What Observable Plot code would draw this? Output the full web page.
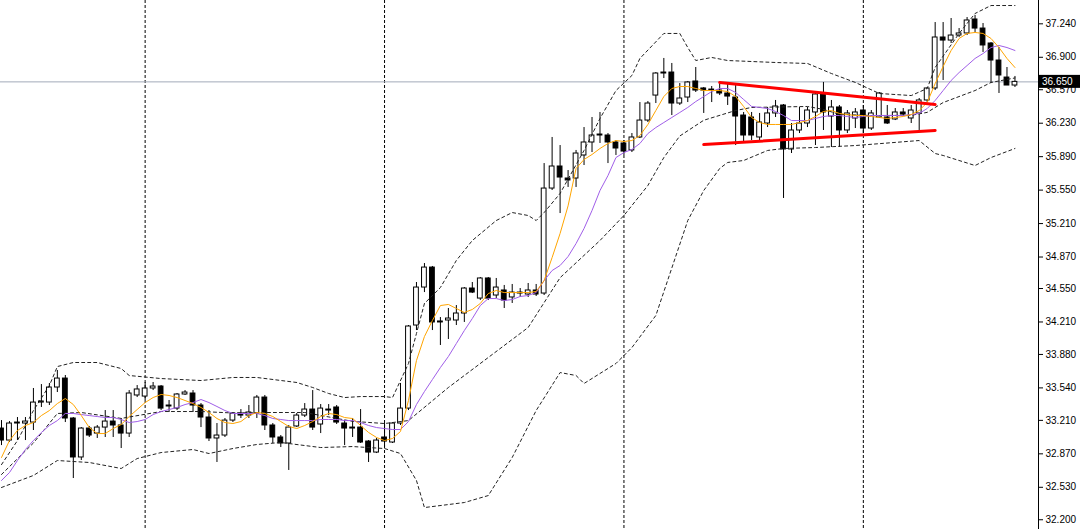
<!DOCTYPE html>
<html><head><meta charset="utf-8">
<script src="https://cdn.jsdelivr.net/npm/d3@7"></script>
<script src="https://cdn.jsdelivr.net/npm/@observablehq/plot@0.6"></script>
<style>html,body{margin:0;padding:0;background:#fff;overflow:hidden}</style>
</head><body><div id="chart"></div>
<script>
// ---- candle data (bar index 0..127) ----
const open = [33.127,33.005,33.178,33.178,33.188,33.391,33.391,33.544,33.635,33.229,
32.833,33.127,33.076,33.137,33.198,33.158,33.076,33.463,33.452,33.534,
33.554,33.351,33.330,33.473,33.483,33.361,33.239,33.026,33.056,33.208,
33.280,33.259,33.280,33.442,33.158,33.036,32.975,33.148,33.259,33.320,
33.168,33.320,33.341,33.178,33.127,33.137,32.995,32.883,33.036,32.985,
33.178,33.330,34.174,34.560,34.763,34.215,34.225,34.225,34.296,34.550,
34.448,34.652,34.479,34.530,34.459,34.499,34.489,34.530,34.499,35.566,
35.790,35.668,35.668,35.902,36.034,36.105,36.105,36.034,36.024,35.953,
36.085,36.257,36.511,36.735,36.745,36.430,36.491,36.654,36.583,36.572,
36.562,36.532,36.491,36.308,36.288,36.085,36.227,36.329,36.410,35.963,
36.156,36.227,36.339,36.522,36.298,36.390,36.156,36.278,36.359,36.176,
36.288,36.288,36.268,36.339,36.278,36.329,36.461,36.583,37.101,37.070,
37.121,37.142,37.284,37.192,37.040,36.867,36.694,36.613];
const high = [33.208,33.198,33.239,33.239,33.534,33.574,33.585,33.717,33.666,33.239,
33.137,33.148,33.158,33.310,33.310,33.229,33.513,33.564,33.595,33.595,
33.564,33.412,33.483,33.513,33.513,33.381,33.310,33.178,33.229,33.290,
33.320,33.361,33.463,33.463,33.178,33.056,33.158,33.280,33.381,33.513,
33.371,33.371,33.361,33.208,33.229,33.320,33.005,33.026,33.178,33.188,
33.585,34.174,34.611,34.804,34.774,34.255,34.347,34.377,34.560,34.611,
34.662,34.662,34.652,34.581,34.591,34.550,34.601,34.591,35.820,36.085,
36.003,35.749,35.953,36.186,36.288,36.339,36.125,36.054,36.054,36.125,
36.440,36.450,36.745,36.888,36.837,36.633,36.654,36.796,36.593,36.603,
36.644,36.623,36.613,36.339,36.339,36.329,36.390,36.461,36.420,36.227,
36.390,36.390,36.532,36.644,36.461,36.410,36.359,36.379,36.410,36.359,
36.542,36.410,36.379,36.379,36.410,36.481,36.593,37.253,37.253,37.294,
37.192,37.304,37.325,37.243,37.050,36.999,36.796,36.705];
const low = [32.954,32.985,33.005,33.005,33.107,33.341,33.361,33.493,33.188,32.619,
32.802,33.036,33.026,33.036,33.036,32.924,33.036,33.442,33.412,33.513,
33.310,33.290,33.310,33.463,33.290,33.137,32.995,32.782,33.036,33.188,
33.229,33.229,33.229,33.107,32.975,32.934,32.701,33.137,33.239,33.107,
33.076,33.259,33.168,32.954,33.036,32.975,32.782,32.873,32.934,32.975,
33.158,33.310,34.123,34.509,34.123,33.971,34.032,34.174,34.205,34.499,
34.428,34.428,34.448,34.347,34.398,34.459,34.459,34.469,34.479,35.546,
35.312,35.577,35.577,35.800,35.932,36.024,35.820,35.902,35.902,35.932,
36.074,36.237,36.430,36.684,36.308,36.410,36.440,36.542,36.329,36.440,
36.511,36.410,36.003,36.034,36.054,36.054,36.186,36.288,35.465,35.922,
36.125,36.186,36.003,36.156,35.983,35.983,36.125,36.176,36.125,36.156,
36.278,36.217,36.257,36.298,36.227,36.156,36.440,36.562,36.664,37.040,
37.101,37.121,37.152,36.949,36.633,36.532,36.613,36.593];
const close = [33.005,33.178,33.188,33.198,33.391,33.402,33.544,33.635,33.229,32.833,
33.127,33.056,33.137,33.198,33.158,33.076,33.483,33.524,33.534,33.554,
33.330,33.361,33.473,33.493,33.361,33.239,33.026,33.056,33.208,33.280,
33.259,33.290,33.442,33.158,33.036,32.975,33.137,33.259,33.320,33.137,
33.330,33.310,33.188,33.127,33.137,32.985,32.883,33.005,32.995,33.178,
33.330,34.164,34.560,34.763,34.205,34.205,34.245,34.296,34.550,34.509,
34.652,34.448,34.560,34.428,34.509,34.509,34.530,34.489,35.566,35.790,
35.678,35.648,35.922,36.034,36.105,36.115,36.034,35.973,35.942,36.085,
36.257,36.430,36.735,36.745,36.430,36.481,36.644,36.562,36.562,36.562,
36.532,36.501,36.298,36.105,36.105,36.237,36.329,36.400,35.963,36.156,
36.227,36.359,36.522,36.339,36.390,36.156,36.329,36.339,36.176,36.329,
36.532,36.227,36.339,36.318,36.359,36.461,36.583,37.101,37.070,37.121,
37.142,37.274,37.192,37.020,36.867,36.715,36.613,36.650];

// ---- moving averages (one value per bar) ----
const maFast = [32.833,33.005,33.107,33.158,33.188,33.259,33.310,33.381,33.432,33.371,
33.259,33.137,33.076,33.076,33.127,33.168,33.249,33.320,33.391,33.442,
33.473,33.463,33.442,33.412,33.381,33.341,33.290,33.229,33.188,33.178,
33.198,33.259,33.290,33.280,33.249,33.198,33.148,33.127,33.158,33.198,
33.249,33.280,33.269,33.239,33.229,33.158,33.087,33.036,33.005,33.026,
33.097,33.412,33.818,34.062,34.225,34.377,34.388,34.347,34.306,34.337,
34.398,34.499,34.530,34.509,34.509,34.509,34.509,34.520,34.631,34.865,
35.110,35.390,35.770,35.861,35.912,35.973,36.024,36.054,36.044,36.054,
36.105,36.217,36.359,36.501,36.583,36.603,36.603,36.583,36.562,36.562,
36.562,36.552,36.501,36.400,36.288,36.237,36.217,36.217,36.217,36.217,
36.237,36.257,36.298,36.349,36.359,36.329,36.318,36.308,36.308,36.298,
36.288,36.278,36.288,36.298,36.318,36.359,36.440,36.633,36.806,36.969,
37.091,37.142,37.152,37.142,37.091,36.999,36.888,36.796];
const maSlow = [32.599,32.680,32.802,32.914,33.005,33.087,33.158,33.208,33.280,33.280,
33.269,33.259,33.249,33.239,33.239,33.219,33.188,33.198,33.219,33.269,
33.300,33.320,33.341,33.371,33.391,33.422,33.391,33.351,33.310,33.280,
33.280,33.280,33.280,33.259,33.229,33.219,33.208,33.208,33.208,33.208,
33.219,33.219,33.219,33.208,33.208,33.188,33.158,33.137,33.127,33.117,
33.117,33.198,33.371,33.503,33.625,33.747,33.859,33.991,34.123,34.245,
34.377,34.448,34.448,34.428,34.438,34.469,34.479,34.509,34.631,34.733,
34.784,34.875,35.007,35.160,35.343,35.546,35.698,35.881,35.932,35.963,
36.024,36.125,36.186,36.237,36.288,36.339,36.390,36.450,36.501,36.552,
36.583,36.583,36.542,36.471,36.400,36.390,36.379,36.349,36.308,36.257,
36.257,36.257,36.278,36.298,36.308,36.308,36.298,36.288,36.298,36.308,
36.308,36.308,36.308,36.308,36.318,36.329,36.379,36.461,36.562,36.664,
36.745,36.816,36.888,36.938,36.999,37.020,36.999,36.969];

// ---- Bollinger bands (read at selected bars) ----
const bbUpperBar = [0,2,4,6,7,9,12,15,16,20,25,29,32,37,39,41,43,45,48,49,51,52,53,55,57,59,62,64,66,67,68,70,73,75,77,79,80,83,85,86,87,89,91,97,101,104,107,110,114,116,117,120,122,124,127];
const bbUpperVal = [32.760,33.005,33.310,33.564,33.757,33.798,33.798,33.737,33.666,33.635,33.615,33.646,33.646,33.595,33.544,33.483,33.442,33.452,33.452,33.442,33.788,34.093,34.398,34.560,34.835,35.038,35.241,35.322,35.292,35.241,35.322,35.516,35.953,36.278,36.562,36.715,36.888,37.142,37.142,36.999,36.867,36.898,36.867,36.847,36.837,36.735,36.644,36.532,36.511,36.583,36.796,37.142,37.345,37.426,37.426];
const bbMidBar = [0,4,7,10,15,20,25,29,33,38,44,48,51,56,61,66,70,75,78,81,83,85,88,92,94,101,103,105,109,114,116,118,122,124,127];
const bbMidVal = [32.660,32.980,33.280,33.290,33.230,33.300,33.300,33.285,33.290,33.290,33.200,33.178,33.208,33.544,33.849,34.154,34.660,35.038,35.292,35.597,35.881,36.100,36.260,36.359,36.390,36.400,36.370,36.320,36.308,36.310,36.340,36.440,36.562,36.644,36.690];
const bbLowerBar = [0,4,7,11,15,17,20,24,26,29,32,35,40,44,48,50,52,53,58,61,64,67,70,72,73,77,79,82,86,88,90,91,93,96,98,102,107,115,117,118,122,124,127];
const bbLowerVal = [32.528,32.650,32.802,32.782,32.721,32.822,32.883,32.914,32.873,32.924,32.965,32.985,32.934,32.944,32.924,32.873,32.599,32.324,32.375,32.446,32.833,33.310,33.696,33.666,33.585,33.788,33.950,34.276,35.241,35.546,35.770,35.831,35.851,35.953,35.973,35.983,36.003,36.054,35.922,35.902,35.800,35.881,35.973];

// ---- drawn triangle (trend lines) ----
const triUpperBar = [90,117], triUpperVal = [36.644,36.420];
const triLowerBar = [88,117], triLowerVal = [36.013,36.156];

// ---- axis / grid ----
const yTickValues = [37.240,36.900,36.570,36.230,35.890,35.550,35.210,34.870,34.550,34.210,33.880,33.540,33.210,32.870,32.530,32.200];
const gridBars = [18,48,78,108];
const lastPrice = 36.650;
const xDomain = [-0.125, 129.95];
const yDomain = [32.101, 37.477];

const candles = open.map((o,i)=>({i, o, h:high[i], l:low[i], c:close[i], up: close[i] >= o}));
const series = (bars, vals) => bars.map((b,k)=>({i:b, v:vals[k]}));
const fast = maFast.map((v,i)=>({i,v}));
const slow = maSlow.map((v,i)=>({i,v}));
const halfBody = 0.3;
const FONT = "'Liberation Sans', Arial, sans-serif";

const chart = Plot.plot({
  width: 1080, height: 529,
  marginLeft: 0, marginRight: 42, marginTop: 0, marginBottom: 0,
  x: {domain: xDomain, axis: null},
  y: {domain: yDomain, axis: null},
  color: {type: "identity"},
  style: {background: "#fff", fontFamily: FONT, fontSize: "10px", color: "#000"},
  marks: [
    Plot.ruleX(gridBars, {stroke: "#000", strokeDasharray: "3,2", strokeWidth: 1}),
    Plot.ruleY([lastPrice], {stroke: "#a3abb9", strokeWidth: 1}),
    Plot.ruleX(candles, {x: "i", y1: "l", y2: "h", stroke: "#000", strokeWidth: 1}),
    Plot.rect(candles, {
      x1: d => d.i - halfBody, x2: d => d.i + halfBody,
      y1: d => Math.min(d.o, d.c), y2: d => Math.max(d.o, d.c),
      fill: d => d.up ? "#fff" : "#000", stroke: "#000", strokeWidth: 1
    }),
    Plot.line(series(bbUpperBar, bbUpperVal), {x: "i", y: "v", stroke: "#222", strokeDasharray: "3,3", strokeWidth: 1}),
    Plot.line(series(bbMidBar, bbMidVal), {x: "i", y: "v", stroke: "#222", strokeDasharray: "3,3", strokeWidth: 1}),
    Plot.line(series(bbLowerBar, bbLowerVal), {x: "i", y: "v", stroke: "#222", strokeDasharray: "3,3", strokeWidth: 1}),
    Plot.line(slow, {x: "i", y: "v", stroke: "#a05ee8", strokeWidth: 1}),
    Plot.line(fast, {x: "i", y: "v", stroke: "#ffa500", strokeWidth: 1}),
    Plot.line(series(triUpperBar, triUpperVal), {x: "i", y: "v", stroke: "#ff0000", strokeWidth: 3}),
    Plot.line(series(triLowerBar, triLowerVal), {x: "i", y: "v", stroke: "#ff0000", strokeWidth: 3}),
    Plot.ruleX([xDomain[1]], {stroke: "#000", strokeWidth: 1}),
    Plot.axisY(yTickValues, {anchor: "right", tickSize: 4, tickPadding: 3, tickFormat: d3.format(".3f"), fontSize: 10})
  ]
});
document.getElementById("chart").appendChild(chart);

// current price label box (drawn over the axis labels, as in the terminal)
const ys = chart.scale("y"), xs = chart.scale("x");
const py = ys.apply(lastPrice);
const px = xs.apply(xDomain[1]);
const g = d3.select(chart).append("g");
g.append("rect").attr("x", px).attr("y", py - 6.5).attr("width", 42).attr("height", 13).attr("fill", "#000");
g.append("text").attr("x", px + 4).attr("y", py).attr("dy", "0.35em").attr("fill", "#fff")
  .attr("text-anchor", "start")
  .attr("font-size", 10).attr("font-family", FONT).text(d3.format(".3f")(lastPrice));
</script>
</body></html>
